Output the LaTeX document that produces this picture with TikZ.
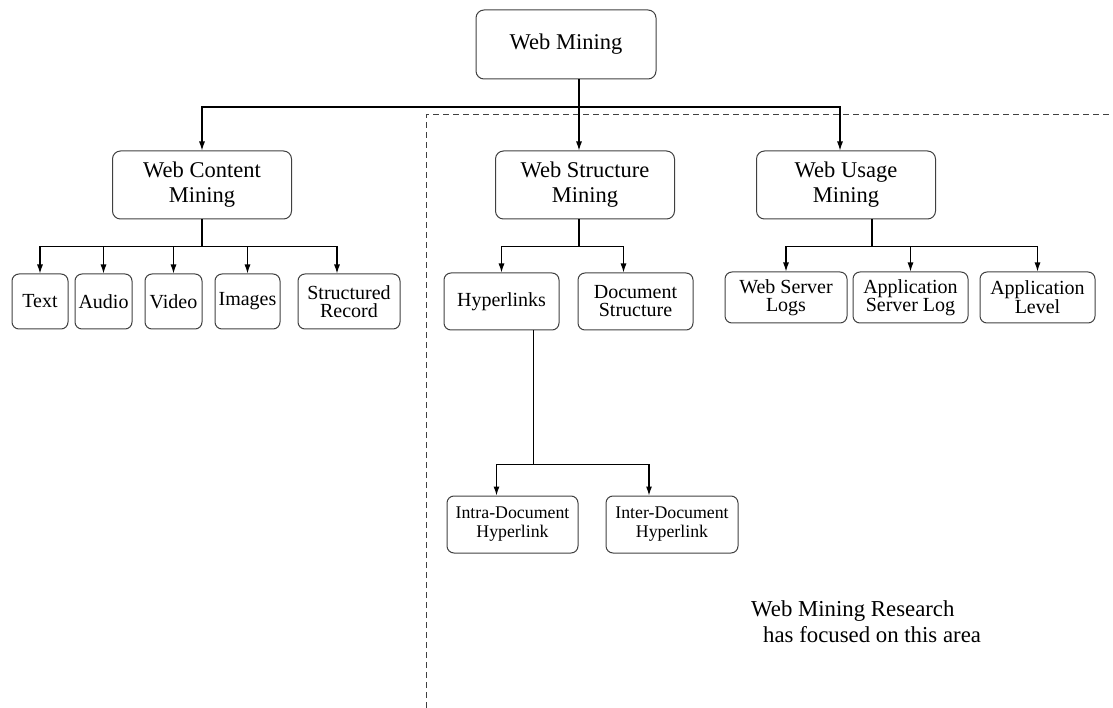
\documentclass[tikz,border=0pt]{standalone}
\usepackage{fontspec}
\setmainfont{Liberation Serif}
\usetikzlibrary{positioning,arrows.meta}

\tikzset{
  mainbox/.style={draw=black!75, line width=1pt, rounded corners=8pt, align=center,
    minimum width=179pt, minimum height=68pt, inner sep=0pt,
    font=\fontsize{22.5}{25}\selectfont},
  leafbox/.style={draw=black!75, line width=1pt, rounded corners=7pt, align=center,
    minimum height=55pt, inner sep=0pt, font=\fontsize{20}{18}\selectfont},
  smallbox/.style={leafbox, font=\fontsize{17.8}{19}\selectfont},
  link/.style={line width=1.1pt},
  arr/.style={link, -{Latex[length=9pt,width=6pt]}},
  area/.style={line width=1pt, black!75, dash pattern=on 6pt off 4pt}
}

\begin{document}
\begin{tikzpicture}[x=1pt, y=-1pt]
\useasboundingbox (0,0) rectangle (1113,708);

% research area
\draw[area] (426,708) |- (1113,115);

% root and main branches
\node[mainbox, minimum width=180pt, minimum height=69pt] (wm) at (566,44.5) {Web Mining};
\node[mainbox] (wcm) at (202,185) {Web Content\\Mining};
\node[mainbox] (wsm) at (585,185) {Web Structure\\Mining};
\node[mainbox] (wum) at (846,185) {Web Usage\\Mining};

% content mining leaves
\node[leafbox, minimum width=56pt] (text) at (40,301.5) {Text};
\node[leafbox, minimum width=57pt] (audio) at (103.5,301.5) {Audio};
\node[leafbox, minimum width=57pt] (video) at (173.5,301.5) {Video};
\node[leafbox, minimum width=65pt] (images) at (247.5,301.5) {Images};
\node[leafbox, minimum width=102pt] (record) at (349,301.5) {Structured\\Record};

% structure mining leaves
\node[leafbox, minimum width=115pt, minimum height=57pt] (hyper) at (501.5,301.5) {Hyperlinks};
\node[leafbox, minimum width=115pt, minimum height=57pt] (docstr) at (635.5,301.5) {Document\\Structure};
\node[smallbox, minimum width=131pt, minimum height=57pt] (intra) at (512.5,524.5) {Intra-Document\\Hyperlink};
\node[smallbox, minimum width=132pt, minimum height=57pt] (inter) at (672,524.5) {Inter-Document\\Hyperlink};

% usage mining leaves
\node[leafbox, minimum width=122pt, minimum height=51pt] (srvlog) at (786,297.5) {Web Server\\Logs};
\node[leafbox, minimum width=115pt, minimum height=51pt] (applog) at (910.5,297.5) {Application\\Server Log};
\node[leafbox, minimum width=115pt, minimum height=51pt] (applvl) at (1037.5,297.5) {Application\\Level};

\node[anchor=west, align=left, inner sep=0pt, font=\fontsize{22.8}{26}\selectfont] (note) at (751,622)
  {Web Mining Research\\\hspace{12pt}has focused on this area};

% root to branches
\coordinate (top) at ([xshift=-6pt]wsm.north |- 0,107);
\draw[arr] (wm.south -| top) -- ([xshift=-6pt]wsm.north);
\draw[arr] (top) -| (wcm.north);
\draw[arr] (top) -| ([xshift=-6pt]wum.north);

% content mining
\draw[link] (wcm.south) -- ++(0,27) coordinate (cbar);
\draw[arr] (cbar) -| (text.north);
\draw[arr] (cbar) -| ([xshift=-12pt]record.north);
\draw[arr] (cbar -| audio) -- (audio.north);
\draw[arr] (cbar -| video) -- (video.north);
\draw[arr] (cbar -| images) -- (images.north);

% structure mining
\draw[link] ([xshift=-6pt]wsm.south) -- ++(0,27) coordinate (sbar);
\draw[arr] (sbar) -| (hyper.north);
\draw[arr] (sbar) -| ([xshift=-12pt]docstr.north);

\draw[link] ([xshift=32pt]hyper.south) -- ++(0,134) coordinate (hbar);
\draw[arr] (hbar) -| ([xshift=-16pt]intra.north);
\draw[arr] (hbar) -| ([xshift=-23pt]inter.north);

% usage mining
\draw[link] ([xshift=26pt]wum.south) -- ++(0,27) coordinate (ubar);
\draw[arr] (ubar) -| (srvlog.north);
\draw[arr] (ubar) -| (applvl.north);
\draw[arr] (ubar -| applog) -- (applog.north);
\end{tikzpicture}
\end{document}
